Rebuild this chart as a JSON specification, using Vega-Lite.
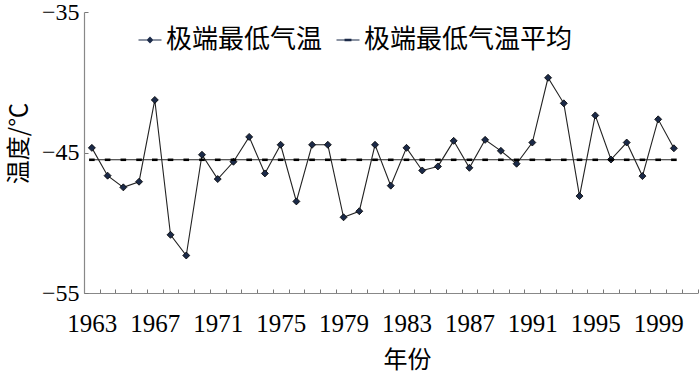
{
  "$schema": "https://vega.github.io/schema/vega-lite/v6.json",
  "width": 613.5,
  "height": 281,
  "autosize": "none",
  "padding": {"left": 84, "top": 12, "right": 2.5, "bottom": 81},
  "background": "white",
  "config": {
    "view": {"stroke": null},
    "axis": {"grid": false}
  },
  "data": {
    "values": [
      {"year": 1963, "series": "极端最低气温", "value": -44.67},
      {"year": 1964, "series": "极端最低气温", "value": -46.65},
      {"year": 1965, "series": "极端最低气温", "value": -47.48},
      {"year": 1966, "series": "极端最低气温", "value": -47.08},
      {"year": 1967, "series": "极端最低气温", "value": -41.26},
      {"year": 1968, "series": "极端最低气温", "value": -50.86},
      {"year": 1969, "series": "极端最低气温", "value": -52.33},
      {"year": 1970, "series": "极端最低气温", "value": -45.16},
      {"year": 1971, "series": "极端最低气温", "value": -46.89},
      {"year": 1972, "series": "极端最低气温", "value": -45.66},
      {"year": 1973, "series": "极端最低气温", "value": -43.89},
      {"year": 1974, "series": "极端最低气温", "value": -46.49},
      {"year": 1975, "series": "极端最低气温", "value": -44.45},
      {"year": 1976, "series": "极端最低气温", "value": -48.48},
      {"year": 1977, "series": "极端最低气温", "value": -44.45},
      {"year": 1978, "series": "极端最低气温", "value": -44.45},
      {"year": 1979, "series": "极端最低气温", "value": -49.61},
      {"year": 1980, "series": "极端最低气温", "value": -49.18},
      {"year": 1981, "series": "极端最低气温", "value": -44.45},
      {"year": 1982, "series": "极端最低气温", "value": -47.36},
      {"year": 1983, "series": "极端最低气温", "value": -44.67},
      {"year": 1984, "series": "极端最低气温", "value": -46.28},
      {"year": 1985, "series": "极端最低气温", "value": -45.99},
      {"year": 1986, "series": "极端最低气温", "value": -44.17},
      {"year": 1987, "series": "极端最低气温", "value": -46.09},
      {"year": 1988, "series": "极端最低气温", "value": -44.10},
      {"year": 1989, "series": "极端最低气温", "value": -44.88},
      {"year": 1990, "series": "极端最低气温", "value": -45.80},
      {"year": 1991, "series": "极端最低气温", "value": -44.29},
      {"year": 1992, "series": "极端最低气温", "value": -39.68},
      {"year": 1993, "series": "极端最低气温", "value": -41.50},
      {"year": 1994, "series": "极端最低气温", "value": -48.10},
      {"year": 1995, "series": "极端最低气温", "value": -42.36},
      {"year": 1996, "series": "极端最低气温", "value": -45.50},
      {"year": 1997, "series": "极端最低气温", "value": -44.29},
      {"year": 1998, "series": "极端最低气温", "value": -46.68},
      {"year": 1999, "series": "极端最低气温", "value": -42.64},
      {"year": 2000, "series": "极端最低气温", "value": -44.70},
      {"year": 1963, "series": "极端最低气温平均", "value": -45.52},
      {"year": 1964, "series": "极端最低气温平均", "value": -45.52},
      {"year": 1965, "series": "极端最低气温平均", "value": -45.52},
      {"year": 1966, "series": "极端最低气温平均", "value": -45.52},
      {"year": 1967, "series": "极端最低气温平均", "value": -45.52},
      {"year": 1968, "series": "极端最低气温平均", "value": -45.52},
      {"year": 1969, "series": "极端最低气温平均", "value": -45.52},
      {"year": 1970, "series": "极端最低气温平均", "value": -45.52},
      {"year": 1971, "series": "极端最低气温平均", "value": -45.52},
      {"year": 1972, "series": "极端最低气温平均", "value": -45.52},
      {"year": 1973, "series": "极端最低气温平均", "value": -45.52},
      {"year": 1974, "series": "极端最低气温平均", "value": -45.52},
      {"year": 1975, "series": "极端最低气温平均", "value": -45.52},
      {"year": 1976, "series": "极端最低气温平均", "value": -45.52},
      {"year": 1977, "series": "极端最低气温平均", "value": -45.52},
      {"year": 1978, "series": "极端最低气温平均", "value": -45.52},
      {"year": 1979, "series": "极端最低气温平均", "value": -45.52},
      {"year": 1980, "series": "极端最低气温平均", "value": -45.52},
      {"year": 1981, "series": "极端最低气温平均", "value": -45.52},
      {"year": 1982, "series": "极端最低气温平均", "value": -45.52},
      {"year": 1983, "series": "极端最低气温平均", "value": -45.52},
      {"year": 1984, "series": "极端最低气温平均", "value": -45.52},
      {"year": 1985, "series": "极端最低气温平均", "value": -45.52},
      {"year": 1986, "series": "极端最低气温平均", "value": -45.52},
      {"year": 1987, "series": "极端最低气温平均", "value": -45.52},
      {"year": 1988, "series": "极端最低气温平均", "value": -45.52},
      {"year": 1989, "series": "极端最低气温平均", "value": -45.52},
      {"year": 1990, "series": "极端最低气温平均", "value": -45.52},
      {"year": 1991, "series": "极端最低气温平均", "value": -45.52},
      {"year": 1992, "series": "极端最低气温平均", "value": -45.52},
      {"year": 1993, "series": "极端最低气温平均", "value": -45.52},
      {"year": 1994, "series": "极端最低气温平均", "value": -45.52},
      {"year": 1995, "series": "极端最低气温平均", "value": -45.52},
      {"year": 1996, "series": "极端最低气温平均", "value": -45.52},
      {"year": 1997, "series": "极端最低气温平均", "value": -45.52},
      {"year": 1998, "series": "极端最低气温平均", "value": -45.52},
      {"year": 1999, "series": "极端最低气温平均", "value": -45.52},
      {"year": 2000, "series": "极端最低气温平均", "value": -45.52}
    ]
  },
  "encoding": {
    "x": {
      "field": "year",
      "type": "quantitative",
      "scale": {"domain": [1962.5, 2001.5], "nice": false, "zero": false},
      "axis": {
        "title": "年份",
        "values": [1962.5, 1963.5, 1964.5, 1965.5, 1966.5, 1967.5, 1968.5, 1969.5, 1970.5, 1971.5, 1972.5, 1973.5, 1974.5, 1975.5, 1976.5, 1977.5, 1978.5, 1979.5, 1980.5, 1981.5, 1982.5, 1983.5, 1984.5, 1985.5, 1986.5, 1987.5, 1988.5, 1989.5, 1990.5, 1991.5, 1992.5, 1993.5, 1994.5, 1995.5, 1996.5, 1997.5, 1998.5, 1999.5, 2000.5, 2001.5],
        "labelExpr": "(datum.value + 0.5 - 1963) % 4 == 0 ? '' + (datum.value + 0.5) : ''",
        "labelOffset": 7.865,
        "labelOverlap": false,
        "labelFlush": false,
        "labelBound": false,
        "labelFont": "Liberation Serif",
        "labelFontSize": 25,
        "labelColor": "#000000",
        "labelPadding": 22,
        "tickSize": -4,
        "tickColor": "#777777",
        "domainColor": "#888888",
        "domainWidth": 1.2,
        "titleFont": "Noto Sans CJK SC",
        "titleFontSize": 24,
        "titleFontWeight": "normal",
        "titleColor": "#000000",
        "titleX": 323,
        "titleY": 74,
        "titleBaseline": "alphabetic",
        "titleAlign": "center",
        "titleAnchor": null
      }
    },
    "y": {
      "field": "value",
      "type": "quantitative",
      "scale": {"domain": [-55, -35], "nice": false, "zero": false},
      "axis": {
        "title": "温度/℃",
        "values": [-55, -45, -35],
        "format": "d",
        "labelFont": "Liberation Serif",
        "labelFontSize": 24,
        "labelColor": "#000000",
        "labelPadding": 9,
        "tickSize": -4,
        "tickColor": "#777777",
        "domainColor": "#888888",
        "domainWidth": 1.2,
        "titleFont": "Noto Sans CJK SC",
        "titleFontSize": 24,
        "titleFontWeight": "normal",
        "titleColor": "#000000",
        "titleAngle": 270,
        "titleX": -65,
        "titleY": 131,
        "titleBaseline": "middle",
        "titleAlign": "center"
      }
    }
  },
  "layer": [
    {
      "mark": {"type": "line", "stroke": "#222222", "strokeWidth": 1.1},
      "encoding": {
        "detail": {"field": "series", "type": "nominal"}
      }
    },
    {
      "transform": [{"filter": "datum.series === '极端最低气温'"}],
      "mark": {"type": "point", "shape": "diamond", "filled": true, "fill": "#1b2a48", "stroke": "#000000", "strokeWidth": 0.8, "opacity": 1, "size": 49}
    },
    {
      "transform": [{"filter": "datum.series === '极端最低气温平均'"}],
      "mark": {"type": "point", "shape": "M-0.8,-0.36H0.8V0.36H-0.8Z", "filled": true, "fill": "#000000", "strokeWidth": 0, "opacity": 1, "size": 49}
    },
    {
      "transform": [{"filter": "datum.year > 3000"}],
      "mark": {"type": "point", "filled": true, "fill": "#1b2a48", "opacity": 1},
      "encoding": {
        "shape": {
          "field": "series",
          "type": "nominal",
          "scale": {
            "domain": ["极端最低气温", "极端最低气温平均"],
            "range": ["M-1,-0.045H1V0.045H-1ZM0,-0.3L0.3,0L0,0.3L-0.3,0Z", "M-1,-0.045H1V0.045H-1ZM-0.3,-0.11H0.3V0.11H-0.3Z"]
          },
          "legend": {
            "title": null,
            "orient": "none",
            "direction": "horizontal",
            "legendX": 53,
            "legendY": 15,
            "labelFont": "Noto Sans CJK SC",
            "labelFontSize": 26,
            "labelColor": "#000000",
            "labelOffset": 3,
            "columnPadding": 12,
            "symbolSize": 529,
            "symbolStrokeWidth": 0,
            "symbolFillColor": "#111111",
            "symbolOpacity": 1,
            "labelLimit": 400,
            "encode": {
              "symbols": {
                "update": {
                  "fill": {"value": "#111111"},
                  "opacity": {"value": 1}
                }
              }
            }
          }
        }
      }
    }
  ]
}
